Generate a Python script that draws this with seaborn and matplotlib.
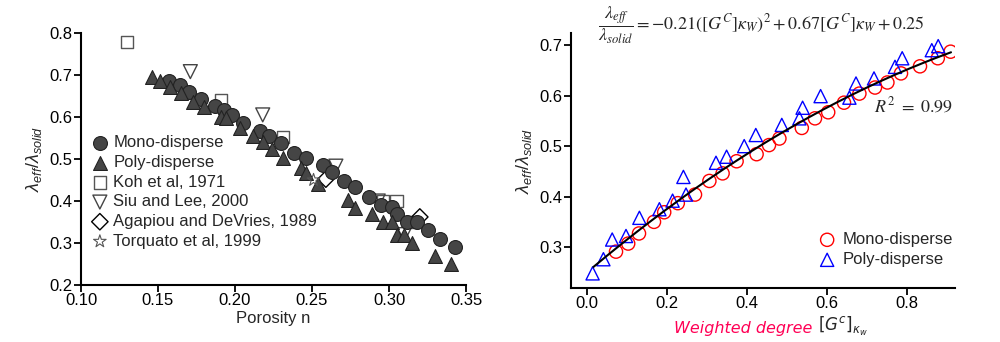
import numpy as np
import pandas as pd
import matplotlib
matplotlib.use("Agg")
import matplotlib.pyplot as plt
import seaborn as sns

# ---------------- data: left panel (porosity) ----------------
mono_n = [0.157, 0.164, 0.170, 0.178, 0.187, 0.193, 0.198, 0.205, 0.216, 0.222, 0.230,
          0.238, 0.246, 0.257, 0.263, 0.271, 0.278, 0.287, 0.295, 0.302, 0.305, 0.312,
          0.318, 0.325, 0.333, 0.343]
mono_k = [0.686, 0.676, 0.660, 0.644, 0.626, 0.617, 0.605, 0.586, 0.567, 0.555, 0.537,
          0.515, 0.503, 0.486, 0.470, 0.448, 0.434, 0.410, 0.390, 0.385, 0.370, 0.350,
          0.350, 0.330, 0.310, 0.290]
poly_n = [0.146, 0.151, 0.158, 0.165, 0.173, 0.180, 0.191, 0.194, 0.203, 0.212, 0.218,
          0.224, 0.231, 0.243, 0.246, 0.254, 0.2735, 0.278, 0.289, 0.296, 0.302, 0.305,
          0.310, 0.315, 0.330, 0.340]
poly_k = [0.696, 0.686, 0.671, 0.656, 0.636, 0.623, 0.601, 0.597, 0.575, 0.555, 0.541,
          0.525, 0.502, 0.478, 0.466, 0.440, 0.402, 0.383, 0.370, 0.350, 0.350, 0.320,
          0.320, 0.300, 0.270, 0.250]
koh_n = [0.130, 0.191, 0.231, 0.296, 0.305, 0.315]
koh_k = [0.779, 0.640, 0.552, 0.400, 0.400, 0.350]
siu_n = [0.171, 0.218, 0.2655, 0.293, 0.310]
siu_k = [0.708, 0.605, 0.483, 0.400, 0.320]
aga_n = [0.259, 0.320]
aga_k = [0.452, 0.362]
tor_n = [0.251]
tor_k = [0.450]

# ---------------- data: right panel (weighted degree) ----------------
m_deg = [0.0725, 0.103, 0.130, 0.1675, 0.193, 0.227, 0.270, 0.306, 0.339, 0.374, 0.424,
         0.455, 0.481, 0.537, 0.570, 0.603, 0.6425, 0.681, 0.720, 0.751, 0.785, 0.8325,
         0.877, 0.909]
m_val = [0.291, 0.307, 0.327, 0.350, 0.369, 0.387, 0.404, 0.431, 0.446, 0.470, 0.484,
         0.502, 0.515, 0.536, 0.555, 0.567, 0.586, 0.604, 0.616, 0.626, 0.644, 0.658,
         0.674, 0.687]
p_deg = [0.014, 0.041, 0.063, 0.0975, 0.131, 0.181, 0.214, 0.241, 0.2475, 0.3225, 0.349,
         0.393, 0.422, 0.487, 0.531, 0.539, 0.584, 0.656, 0.6725, 0.7175, 0.770, 0.788,
         0.862, 0.878]
p_val = [0.248, 0.276, 0.315, 0.322, 0.358, 0.375, 0.392, 0.439, 0.404, 0.467, 0.479,
         0.500, 0.522, 0.542, 0.555, 0.576, 0.599, 0.596, 0.624, 0.634, 0.657, 0.674,
         0.690, 0.698]
fit_coef = [-0.21, 0.67, 0.25]
fit_range = [0.016, 0.91]

# ---------------- style ----------------
sns.set_style("ticks")
plt.rcParams["font.family"] = ["Liberation Sans", "DejaVu Sans"]
plt.rcParams["mathtext.fontset"] = "custom"
plt.rcParams["mathtext.it"] = "Liberation Sans:italic"
plt.rcParams["mathtext.rm"] = "Liberation Sans"
plt.rcParams["axes.linewidth"] = 1.5
plt.rcParams["axes.edgecolor"] = "black"
plt.rcParams["xtick.major.width"] = 1.3
plt.rcParams["ytick.major.width"] = 1.3
plt.rcParams["xtick.major.size"] = 5
plt.rcParams["ytick.major.size"] = 5
plt.rcParams["xtick.color"] = "black"
plt.rcParams["ytick.color"] = "black"

fig = plt.figure(figsize=(10, 3.42), dpi=100)
ax1 = fig.add_axes([0.081, 1 - 285 / 342, 0.385, (285 - 33) / 342])
ax2 = fig.add_axes([0.571, 1 - 288 / 342, 0.384, (288 - 33) / 342])

# ---------------- left panel ----------------
dark = "#454545"
sns.scatterplot(x=mono_n, y=mono_k, ax=ax1, marker="o", s=100, facecolor=dark,
                edgecolor="#222222", linewidth=0.8, label="Mono-disperse", zorder=3)
sns.scatterplot(x=poly_n, y=poly_k, ax=ax1, marker="^", s=100, facecolor=dark,
                edgecolor="#222222", linewidth=0.8, label="Poly-disperse", zorder=3)
sns.scatterplot(x=koh_n, y=koh_k, ax=ax1, marker="s", s=80, facecolor="none",
                edgecolor="#555555", linewidth=1.0, label="Koh et al, 1971", zorder=2)
sns.scatterplot(x=siu_n, y=siu_k, ax=ax1, marker="v", s=100, facecolor="none",
                edgecolor="#444444", linewidth=1.0, label="Siu and Lee, 2000", zorder=2)
sns.scatterplot(x=aga_n, y=aga_k, ax=ax1, marker="D", s=70, facecolor="none",
                edgecolor="black", linewidth=1.0, label="Agapiou and DeVries, 1989", zorder=2)
sns.scatterplot(x=tor_n, y=tor_k, ax=ax1, marker="*", s=90, facecolor="none",
                edgecolor="#555555", linewidth=0.8, label="Torquato et al, 1999", zorder=4)

ax1.set_xlim(0.10, 0.35)
ax1.set_ylim(0.2, 0.8)
ax1.set_xticks([0.10, 0.15, 0.20, 0.25, 0.30, 0.35])
ax1.set_xticklabels(["0.10", "0.15", "0.20", "0.25", "0.30", "0.35"])
ax1.set_yticks([0.2, 0.3, 0.4, 0.5, 0.6, 0.7, 0.8])
ax1.set_yticklabels(["0.2", "0.3", "0.4", "0.5", "0.6", "0.7", "0.8"])
ax1.tick_params(labelsize=12, pad=1)
ax1.set_xlabel("Porosity n", fontsize=12, labelpad=2)
ax1.set_ylabel(r"$\lambda_{eff}/\lambda_{solid}$", fontsize=13, labelpad=4)
sns.despine(ax=ax1)
ax1.legend(loc="upper left", bbox_to_anchor=(0.01, 0.62), frameon=False, fontsize=12,
           handletextpad=0.3, labelspacing=0.28, borderaxespad=0, handlelength=1.0)

# ---------------- right panel ----------------
sns.scatterplot(x=m_deg, y=m_val, ax=ax2, marker="o", s=90, facecolor="none",
                edgecolor="red", linewidth=1.0, label="Mono-disperse", zorder=3)
sns.scatterplot(x=p_deg, y=p_val, ax=ax2, marker="^", s=90, facecolor="none",
                edgecolor="blue", linewidth=1.0, label="Poly-disperse", zorder=3)
xf = np.linspace(fit_range[0], fit_range[1], 200)
sns.lineplot(x=xf, y=np.polyval(fit_coef, xf), ax=ax2, color="black", linewidth=1.5,
             zorder=4, legend=False)

ax2.set_xlim(-0.04, 0.92)
ax2.set_ylim(0.219, 0.724)
ax2.set_xticks([0.0, 0.2, 0.4, 0.6, 0.8])
ax2.set_xticklabels(["0.0", "0.2", "0.4", "0.6", "0.8"])
ax2.set_yticks([0.3, 0.4, 0.5, 0.6, 0.7])
ax2.set_yticklabels(["0.3", "0.4", "0.5", "0.6", "0.7"])
ax2.tick_params(labelsize=12, pad=1)
ax2.set_ylabel(r"$\lambda_{eff}/\lambda_{solid}$", fontsize=13, labelpad=4)
ax2.set_xlabel("")
sns.despine(ax=ax2)
ax2.legend(loc="upper left", bbox_to_anchor=(0.628, 0.245), frameon=False, fontsize=12,
           handletextpad=0.4, labelspacing=0.3, borderaxespad=0, handlelength=1.0)

ax2.text(0.915, 0.58, r"$R^2\ =\ 0.99$", transform=ax2.transData,
         ha="right", va="center", fontsize=13, math_fontfamily="stix")

# equation
fig.text(0.598, 0.925,
         r"$\dfrac{\lambda_{eff}}{\lambda_{solid}} = -0.21([G^C]\kappa_W)^2 + 0.67[G^C]\kappa_W + 0.25$",
         ha="left", va="center", fontsize=13, math_fontfamily="stix")

# x label of right panel
fig.text(0.674, 1 - 328 / 342, "Weighted degree", color="#FF0055", style="italic",
         fontsize=11.5, ha="left", va="center", family=["DejaVu Sans"])
fig.text(0.818, 1 - 326 / 342, r"$[G^c]_{\kappa_w}$", fontsize=12, ha="left", va="center",
         math_fontfamily="dejavusans")

fig.savefig("out.png", dpi=100)
